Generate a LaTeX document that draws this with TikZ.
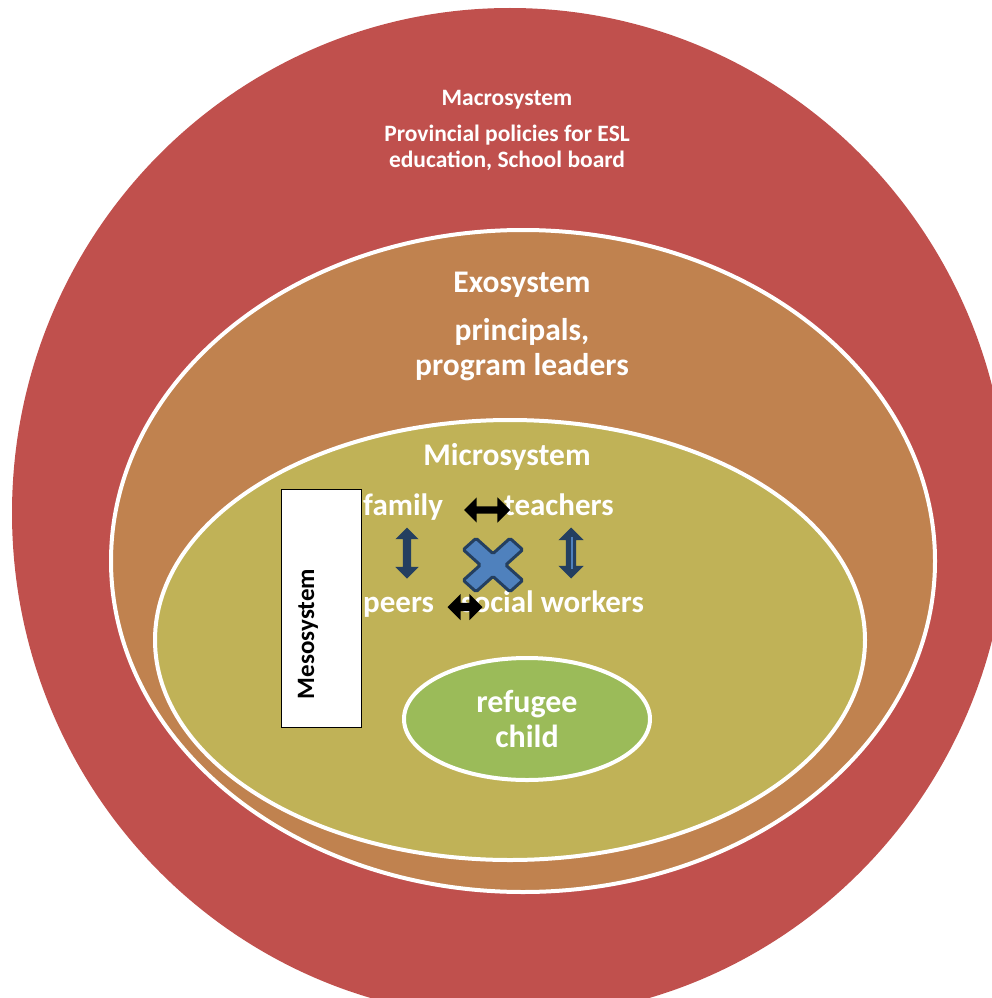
\documentclass[tikz,border=0pt]{standalone}
\usepackage{fontspec}
\setmainfont{Carlito}
\usetikzlibrary{shapes.arrows,shapes.geometric}
\definecolor{Brick}{HTML}{C0504D}
\definecolor{Clay}{HTML}{C0824F}
\definecolor{Olive}{HTML}{C0B257}
\definecolor{Leaf}{HTML}{9BBB59}
\definecolor{Steel}{HTML}{4F81BD}
\definecolor{Navy}{HTML}{243F60}
\newcommand{\sysfont}[2]{\fontsize{#1}{#2}\selectfont\bfseries}
\tikzset{
  ring/.style={draw=white, line width=4},
  heading/.style={text=white, align=center, inner sep=0},
  member/.style={text=white, font=\sysfont{31}{35}, anchor=base west, inner sep=0},
  linkarrow/.style={double arrow, double arrow head indent=0, inner sep=0, minimum width=0}
}

\begin{document}
\begin{tikzpicture}[x=1pt,y=-1pt]
    \useasboundingbox (0,0) rectangle (992,998);
    \clip (0,0) rectangle (992,998);
    % nested systems
    \fill[Brick] (510,513) ellipse [x radius=498, y radius=505];
    \draw[ring, fill=Clay] (523,561) ellipse [x radius=412, y radius=331];
    \draw[ring, fill=Olive] (510,640) ellipse [x radius=355, y radius=220];
    \node[ellipse, ring, fill=Leaf, minimum width=246, minimum height=122,
          heading, font=\sysfont{32}{35}] (child) at (527,719) {refugee\\child};

    \node[heading, font=\sysfont{23.5}{26}] (macro) at (507,100) {Macrosystem};
    \node[heading, font=\sysfont{23.5}{26}] (macrotext) at (507,148) {Provincial policies for ESL\\education, School board};
    \node[heading, font=\sysfont{31.5}{35}] (exo) at (522,285) {Exosystem};
    \node[heading, font=\sysfont{31.5}{35}] (exotext) at (522,350) {principals,\\program leaders};
    \node[heading, font=\sysfont{31.5}{35}] (micro) at (507,457) {Microsystem};

    % mesosystem box
    \node[draw=black, line width=1, fill=white, minimum width=80, minimum height=238] (meso) at (321,608) {};
    \node[rotate=90, font=\sysfont{25}{28}, inner sep=0] (mesotext) at (308,634) {Mesosystem};

    % microsystem members
    \node[member] (family) at (363,515) {family};
    \node[member] (teachers) at (504,515) {teachers};
    \node[member] (peers) at (363,612) {peers};
    \node[member] (social) at (461,612) {social workers};

    % links
    \node[linkarrow, fill=black, minimum height=46, inner ysep=3.5, double arrow head extend=9] (ft) at (487,510) {};
    \node[linkarrow, fill=black, minimum height=35, inner ysep=4, double arrow head extend=9] (ps) at (465,607) {};
    \node[linkarrow, rotate=90, fill=Navy, minimum height=51, inner ysep=4, double arrow head extend=7.5] (fp) at (407,553) {};
    \node[linkarrow, rotate=90, fill=Navy, minimum height=51, inner ysep=5, double arrow head extend=7.5] (tw) at (571,553) {};
    \draw[Steel, line width=2.5] (tw.center) ++(1,-16) -- ++(0,32);
    \draw[Navy, fill=Steel, line width=3, rounded corners=1.5, shift={(493,565)}, yscale=0.9, rotate=45]
        (9,9) -- (33,9) -- (33,-9) -- (9,-9) -- (9,-33) -- (-9,-33) -- (-9,-9)
        -- (-33,-9) -- (-33,9) -- (-9,9) -- (-9,33) -- (9,33) -- cycle;
\end{tikzpicture}
\end{document}
